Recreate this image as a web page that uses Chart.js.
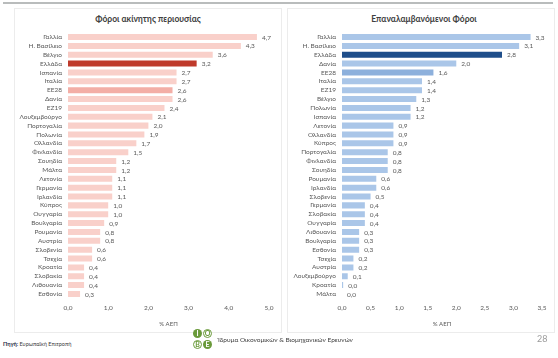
<!DOCTYPE html>
<html>
<head>
<meta charset="utf-8">
<script src="https://cdn.jsdelivr.net/npm/chart.js@4.4.2/dist/chart.umd.min.js"></script>
<style>
  body { margin: 0; width: 558px; height: 358px; background: #fff; position: relative; overflow: hidden; font-family: Lato, "Open Sans", sans-serif; }
  .topline { position: absolute; left: 3px; top: 2px; width: 550px; height: 2px; background: #b9bcbc; }
  .panel { position: absolute; top: 8px; height: 325px; border: 1px solid #ececec; box-sizing: border-box; }
  .ttl { position: absolute; top: 14px; font-size: 8.5px; font-weight: bold; color: #404040; text-align: center; }
  canvas { position: absolute; }
  .src { position: absolute; left: 3px; top: 341px; font-size: 5.5px; color: #404040; }
  .src b { color: #1f2a44; }
  .org { position: absolute; left: 218px; top: 336px; font-size: 6.5px; color: #404040; }
  .page { position: absolute; left: 537px; top: 333px; font-size: 9px; color: #9a9a9a; }
  .c { position: absolute; width: 9px; height: 9px; border-radius: 50%; font-size: 7px; line-height: 9px; text-align: center; font-weight: bold; box-sizing: border-box; }
  .g { background: #6a9a3a; color: #fff; }
  .w { background: #fff; color: #6a9a3a; border: 1px solid #6a9a3a; line-height: 7px; }
</style>
</head>
<body>
<div class="topline"></div>
<div class="panel" style="left:14px;width:268px;"></div>
<div class="panel" style="left:287px;width:268px;"></div>
<div class="ttl" style="left:14px;width:268px;">Φόροι ακίνητης περιουσίας</div>
<div class="ttl" style="left:293px;width:262px;">Επαναλαμβανόμενοι Φόροι</div>
<canvas id="left" style="left:14px;top:8px;" width="268" height="325"></canvas>
<canvas id="right" style="left:287px;top:8px;" width="268" height="325"></canvas>
<div class="src"><b>Πηγή:</b> Ευρωπαϊκή Επιτροπή</div>
<div class="c g" style="left:193px;top:329px;">Ι</div>
<div class="c w" style="left:203px;top:329px;">Ο</div>
<div class="c w" style="left:193px;top:340px;">Β</div>
<div class="c g" style="left:203px;top:340px;">Ε</div>
<div class="org">Ίδρυμα Οικονομικών &amp; Βιομηχανικών Ερευνών</div>
<div class="page">28</div>
<script>
const propertyCountries = ["Γαλλία", "Η. Βασίλειο", "Βέλγιο", "Ελλάδα", "Ισπανία", "Ιταλία", "ΕΕ28", "Δανία", "ΕΖ19",
    "Λουξεμβούργο", "Πορτογαλία", "Πολωνία", "Ολλανδία", "Φινλανδία", "Σουηδία", "Μάλτα", "Λετονία", "Γερμανία",
    "Ιρλανδία", "Κύπρος", "Ουγγαρία", "Βουλγαρία", "Ρουμανία", "Αυστρία", "Σλοβενία", "Τσεχία", "Κροατία",
    "Σλοβακία", "Λιθουανία", "Εσθονία"];
const propertyValues = [4.7, 4.3, 3.6, 3.2, 2.7, 2.7, 2.6, 2.6, 2.4, 2.1, 2.0, 1.9, 1.7, 1.5, 1.2, 1.2, 1.1, 1.1,
    1.1, 1.0, 1.0, 0.9, 0.8, 0.8, 0.6, 0.6, 0.4, 0.4, 0.4, 0.3];

const recurrentCountries = ["Γαλλία", "Η. Βασίλειο", "Ελλάδα", "Δανία", "ΕΕ28", "Ιταλία", "ΕΖ19", "Βέλγιο", "Πολωνία",
    "Ισπανία", "Λετονία", "Ολλανδία", "Κύπρος", "Πορτογαλία", "Φινλανδία", "Σουηδία", "Ρουμανία", "Ιρλανδία",
    "Σλοβενία", "Γερμανία", "Σλοβακία", "Ουγγαρία", "Λιθουανία", "Βουλγαρία", "Εσθονία", "Τσεχία", "Αυστρία",
    "Λουξεμβούργο", "Κροατία", "Μάλτα"];
const recurrentValues = [3.3, 3.1, 2.8, 2.0, 1.6, 1.4, 1.4, 1.3, 1.2, 1.2, 0.9, 0.9, 0.9, 0.8, 0.8, 0.8, 0.6, 0.6,
    0.5, 0.4, 0.4, 0.4, 0.3, 0.3, 0.3, 0.2, 0.2, 0.1, 0.02, 0.0];

const axisTitle = "% ΑΕΠ";
const textColor = "#595959";
const fontFamily = "Lato, 'Open Sans', sans-serif";

// value labels at the end of each bar, greek decimal comma
const valueLabels = {
    id: "valueLabels",
    afterDatasetsDraw(chart) {
        const ctx = chart.ctx;
        const meta = chart.getDatasetMeta(0);
        ctx.save();
        ctx.font = "6.5px " + fontFamily;
        ctx.fillStyle = textColor;
        ctx.textAlign = "left";
        ctx.textBaseline = "middle";
        meta.data.forEach((bar, i) => {
            const v = chart.data.datasets[0].data[i];
            ctx.fillText(v.toFixed(1).replace(".", ","), bar.x + 5, bar.y + 0.5);
        });
        ctx.restore();
    }
};

function makeChart(id, labels, values, max, step, light, mid, dark) {
    const colors = labels.map(l => l === "Ελλάδα" ? dark : (l === "ΕΕ28" ? mid : light));
    return new Chart(document.getElementById(id), {
        type: "bar",
        data: {
            labels: labels,
            datasets: [{
                data: values,
                backgroundColor: colors,
                barPercentage: 0.68,
                categoryPercentage: 1
            }]
        },
        plugins: [valueLabels],
        options: {
            indexAxis: "y",
            responsive: false,
            animation: false,
            layout: { padding: { top: 24.6, bottom: 5.6, left: 0, right: 13 } },
            plugins: { legend: { display: false }, tooltip: { enabled: false }, title: { display: false } },
            scales: {
                x: {
                    min: 0,
                    max: max,
                    grid: { display: false, drawTicks: false },
                    border: { display: false },
                    ticks: {
                        stepSize: step,
                        padding: 6,
                        color: textColor,
                        font: { size: 6.5, family: fontFamily },
                        callback: v => v.toFixed(1).replace(".", ",")
                    },
                    title: {
                        display: true,
                        text: axisTitle,
                        color: textColor,
                        font: { size: 6, family: fontFamily },
                        padding: { top: 4, bottom: 0 }
                    },
                    afterFit: s => { s.height = 29; }
                },
                y: {
                    grid: { display: false, drawTicks: false },
                    border: { display: false },
                    ticks: {
                        padding: 6,
                        color: textColor,
                        autoSkip: false,
                        font: { size: 6.5, family: fontFamily }
                    },
                    afterFit: s => { s.width = id === "left" ? 54 : 55; }
                }
            }
        }
    });
}

makeChart("left", propertyCountries, propertyValues, 5, 1, "#f9d0ca", "#f3aea6", "#bf3a2b");
makeChart("right", recurrentCountries, recurrentValues, 3.5, 0.5, "#aac6e8", "#8db0dc", "#1f4e8a");
</script>
</body>
</html>
